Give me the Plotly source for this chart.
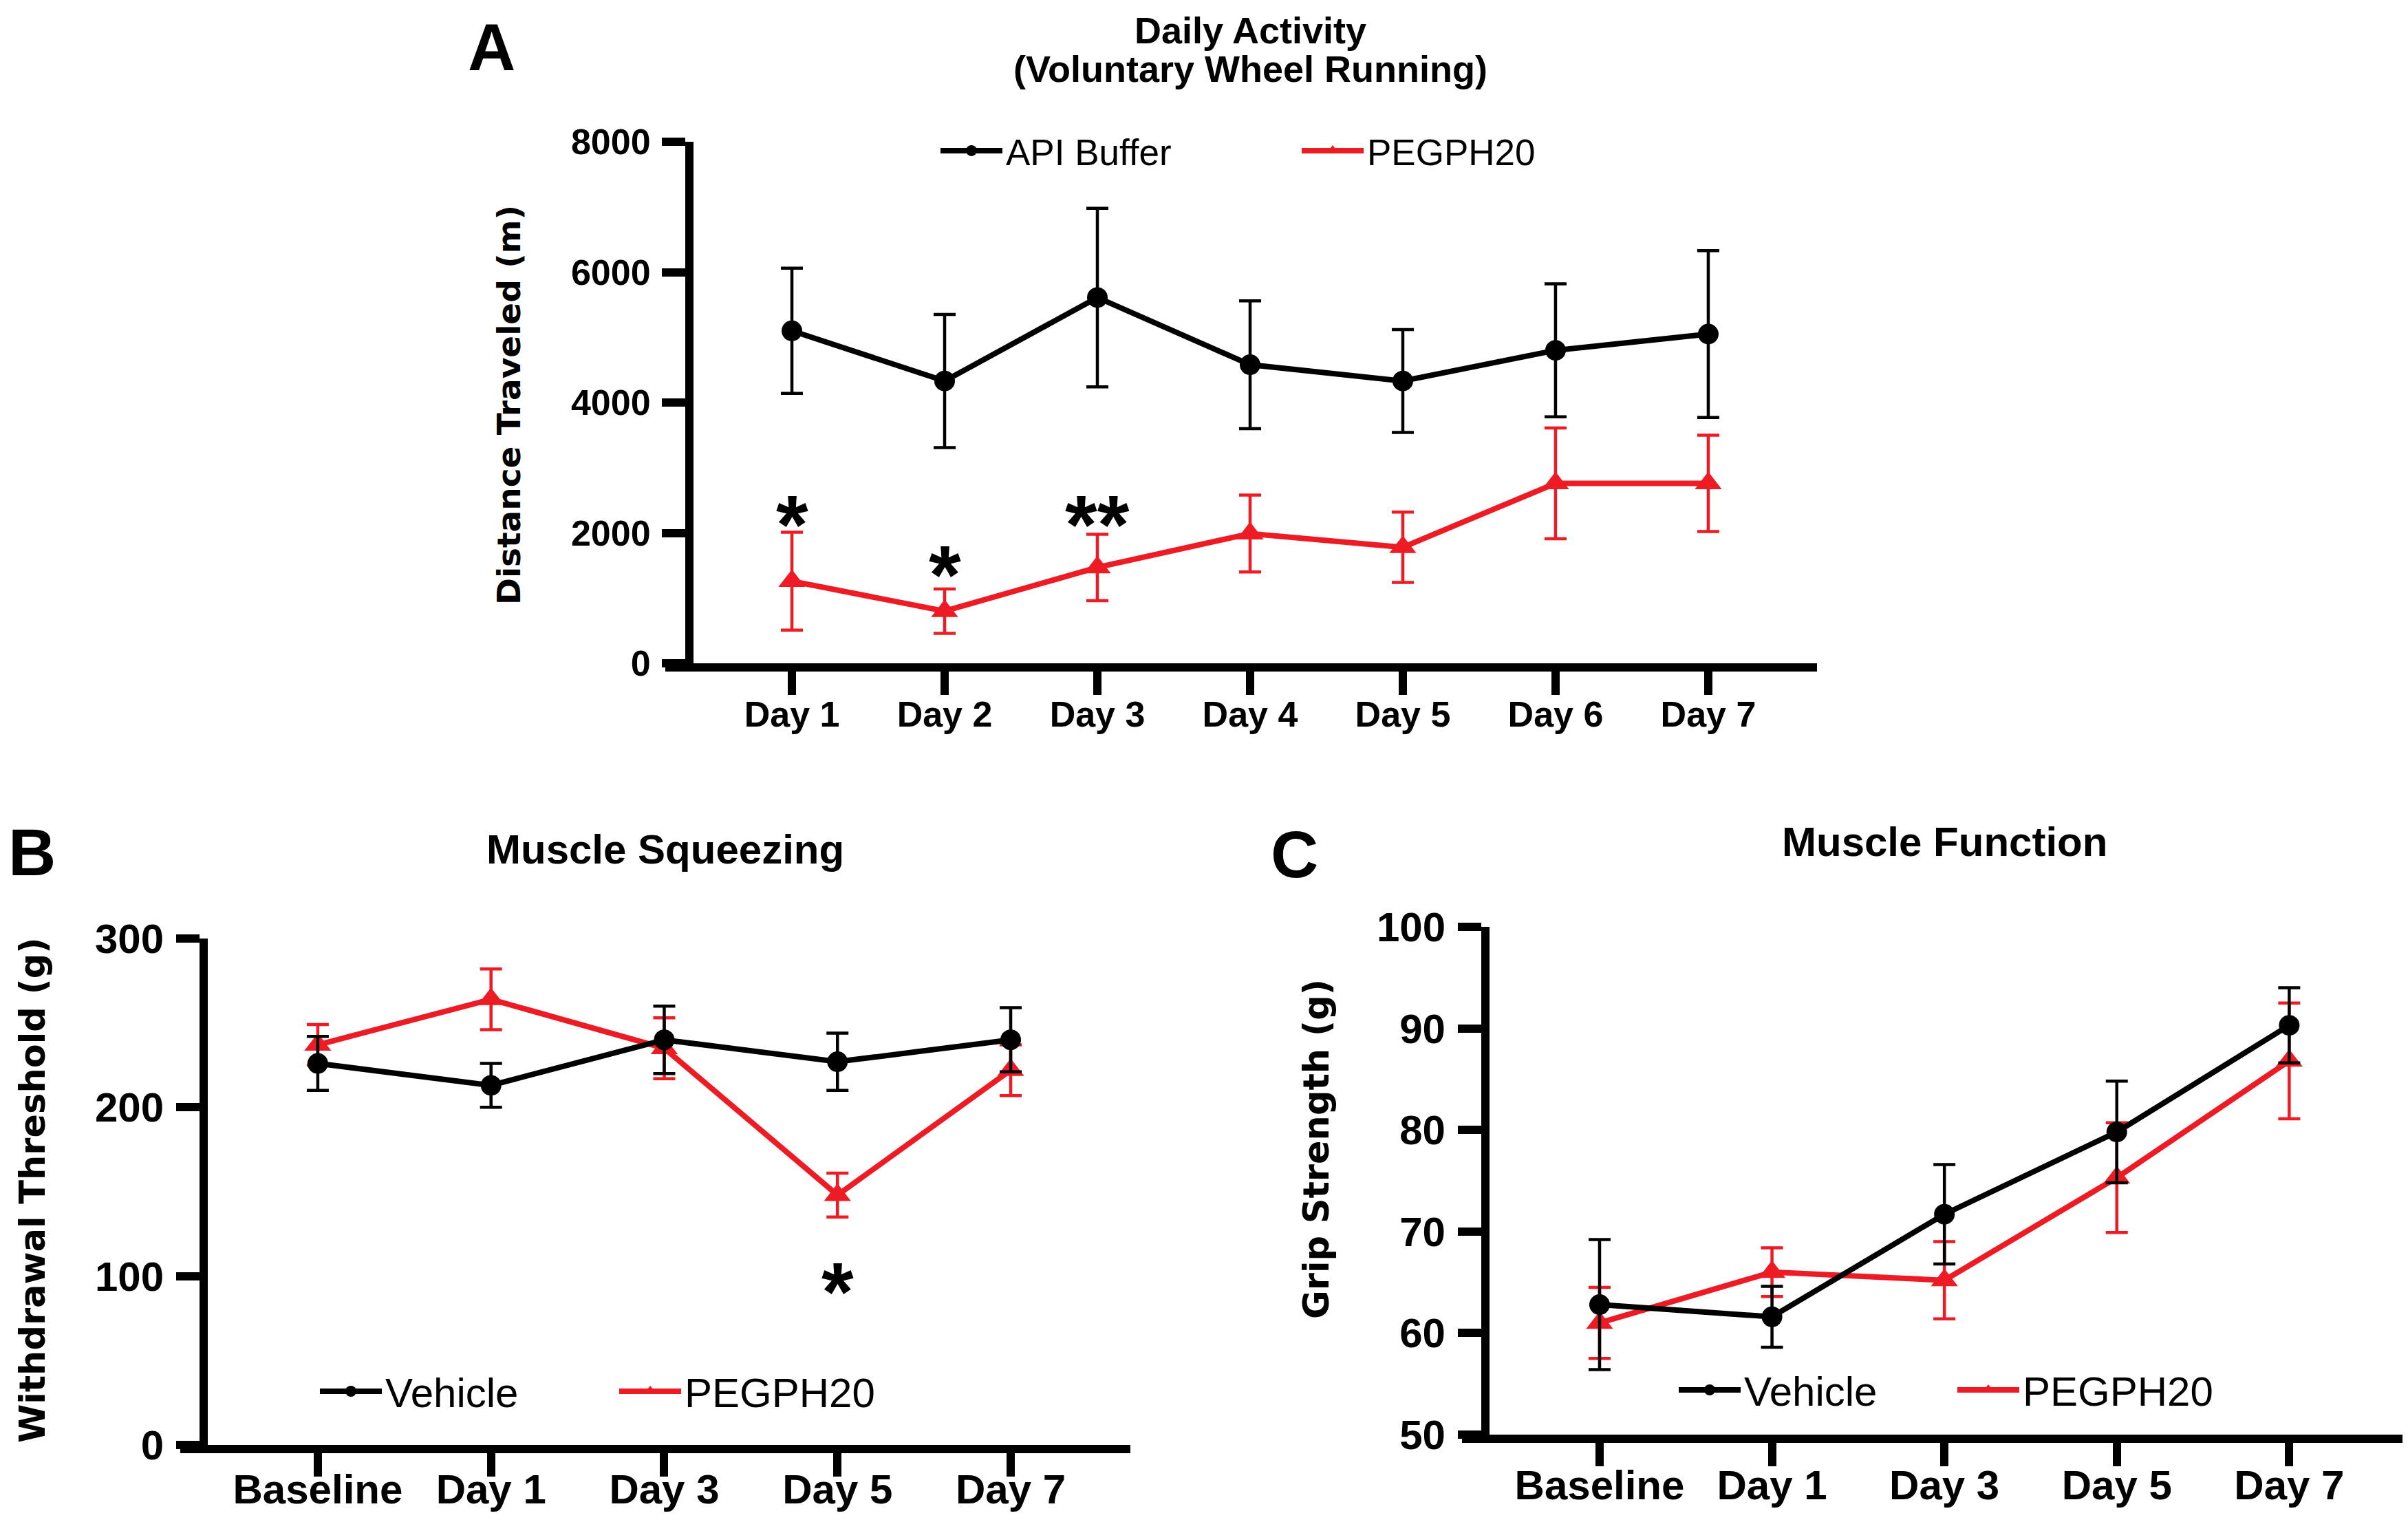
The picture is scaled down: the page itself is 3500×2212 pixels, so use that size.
import plotly.graph_objects as go

# The page adds an 8 px body margin, so the figure is sized to fit inside the window
OFF = 8
FW, FH = 3484, 2196

# ---------------- data ----------------
days_a = ["Day 1", "Day 2", "Day 3", "Day 4", "Day 5", "Day 6", "Day 7"]
api_mean = [5100, 4330, 5610, 4580, 4330, 4800, 5050]
api_err = [960, 1020, 1370, 980, 790, 1020, 1280]
peg_a_mean = [1260, 800, 1470, 1990, 1780, 2760, 2760]
peg_a_err = [750, 340, 510, 590, 540, 850, 740]
sig_a_cats = ["Day 1", "Day 2", "Day 3"]
sig_a_text = ["*", "*", "**"]
sig_a_y = [2135, 1357, 2135]
a_ticks = [0, 2000, 4000, 6000, 8000]
a_ticktext = ["0", "2000", "4000", "6000", "8000"]

days_bc = ["Baseline", "Day 1", "Day 3", "Day 5", "Day 7"]
veh_b_mean = [226, 213, 240, 227, 240]
veh_b_err = [16, 13, 20, 17, 19]
peg_b_mean = [237, 264, 235, 148, 222]
peg_b_err = [12, 18, 18, 13, 15]
sig_b_cats = ["Day 5"]
sig_b_text = ["*"]
sig_b_y = [91]
b_ticks = [0, 100, 200, 300]

veh_c_mean = [62.8, 61.6, 71.7, 79.8, 90.3]
veh_c_err = [6.4, 3.0, 4.9, 5.0, 3.7]
peg_c_mean = [61.0, 66.0, 65.2, 75.3, 86.8]
peg_c_err = [3.5, 2.4, 3.8, 5.4, 5.7]
c_ticks = [50, 60, 70, 80, 90, 100]

RED = "#ED1C24"
BLACK = "#000000"
ARIAL = "Liberation Sans, Arial, sans-serif"
WIDE = "DejaVu Sans, Verdana, sans-serif"


def px_x(p):
    return (p - OFF) / FW


def px_y(p):
    return 1 - (p - OFF) / FH


fig = go.Figure()


def add_series(x, y, err, color, symbol, msize, name, xa, ya, legend, rank):
    fig.add_trace(go.Scatter(
        x=x, y=y, xaxis=xa, yaxis=ya, name=name, legend=legend, legendrank=rank,
        mode="lines+markers",
        line=dict(color=color, width=8),
        marker=dict(color=color, symbol=symbol, size=msize),
        error_y=dict(type="data", array=err, color=color, thickness=4.5, width=16, visible=True),
    ))


# Panel A
add_series(days_a, peg_a_mean, peg_a_err, RED, "triangle-up", 34, "PEGPH20", "x", "y", "legend", 2)
add_series(days_a, api_mean, api_err, BLACK, "circle", 30, "API Buffer", "x", "y", "legend", 1)
# Panel B
add_series(days_bc, peg_b_mean, peg_b_err, RED, "triangle-up", 34, "PEGPH20", "x2", "y2", "legend2", 2)
add_series(days_bc, veh_b_mean, veh_b_err, BLACK, "circle", 30, "Vehicle", "x2", "y2", "legend2", 1)
# Panel C
add_series(days_bc, peg_c_mean, peg_c_err, RED, "triangle-up", 34, "PEGPH20", "x3", "y3", "legend3", 2)
add_series(days_bc, veh_c_mean, veh_c_err, BLACK, "circle", 30, "Vehicle", "x3", "y3", "legend3", 1)

LW = 12


def xaxis_cfg(domain_px, rng, cats, fs, anchor, standoff):
    return dict(
        domain=[px_x(domain_px[0]), px_x(domain_px[1])], anchor=anchor, automargin=False,
        type="category", categoryorder="array", categoryarray=cats,
        range=rng, showline=True, linewidth=LW, linecolor=BLACK,
        ticks="outside", ticklen=34, tickwidth=LW, tickcolor=BLACK,
        showgrid=False, zeroline=False,
        tickfont=dict(family=ARIAL, size=fs, color=BLACK, weight="bold"),
        ticklabelstandoff=standoff,
    )


def yaxis_cfg(domain_px, pos_px, rng, tickvals, ticktext, fs):
    return dict(
        domain=[px_y(domain_px[0]), px_y(domain_px[1])], anchor="free", automargin=False,
        position=px_x(pos_px), range=rng, tickvals=tickvals, ticktext=ticktext,
        showline=True, linewidth=LW, linecolor=BLACK,
        ticks="outside", ticklen=34, tickwidth=LW, tickcolor=BLACK,
        showgrid=False, zeroline=False,
        tickfont=dict(family=ARIAL, size=fs, color=BLACK, weight="bold"),
        ticklabelstandoff=6,
    )


fig.update_layout(
    width=FW, height=FH, margin=dict(l=0, r=0, t=0, b=0, autoexpand=False),
    paper_bgcolor="white", plot_bgcolor="white", showlegend=True,
    xaxis=xaxis_cfg((967, 2641), [-0.829, 6.712], days_a, 52, "y", -16),
    yaxis=yaxis_cfg((964, 206), 1002, [0, 8000], a_ticks, a_ticktext, 52),
    xaxis2=xaxis_cfg((262, 1643), [-0.794, 4.691], days_bc, 60, "y2", -33),
    yaxis2=yaxis_cfg((2100, 1364), 296, [0, 300], b_ticks, [str(v) for v in b_ticks], 60),
    xaxis3=xaxis_cfg((2125, 3492), [-0.798, 4.657], days_bc, 60, "y3", -24),
    yaxis3=yaxis_cfg((2085, 1347), 2159, [50, 100], c_ticks, [str(v) for v in c_ticks], 60),
    legend=dict(orientation="h", x=px_x(1362), y=px_y(219), xanchor="left", yanchor="middle",
                font=dict(family=ARIAL, size=53, color=BLACK), bgcolor="rgba(0,0,0,0)",
                itemwidth=90, entrywidth=420, traceorder="normal"),
    legend2=dict(orientation="h", x=px_x(460), y=px_y(2022), xanchor="left", yanchor="middle",
                 font=dict(family=ARIAL, size=60, color=BLACK), bgcolor="rgba(0,0,0,0)",
                 itemwidth=90, entrywidth=330, traceorder="normal"),
    legend3=dict(orientation="h", x=px_x(2435), y=px_y(2020), xanchor="left", yanchor="middle",
                 font=dict(family=ARIAL, size=60, color=BLACK), bgcolor="rgba(0,0,0,0)",
                 itemwidth=90, entrywidth=300, traceorder="normal"),
)

ann = []
# panel letters
for txt, cx, cy in [("A", 714, 68), ("B", 46, 1238), ("C", 1881, 1241)]:
    ann.append(dict(text=txt, x=px_x(cx), y=px_y(cy), xref="paper", yref="paper",
                    showarrow=False, xanchor="center", yanchor="middle",
                    font=dict(family=ARIAL, size=96, color=BLACK, weight="bold")))
# titles
for txt, cx, cy, fs in [("Daily Activity", 1818, 44, 54),
                        ("(Voluntary Wheel Running)", 1818, 100, 54),
                        ("Muscle Squeezing", 967, 1234, 60),
                        ("Muscle Function", 2826, 1223, 60)]:
    ann.append(dict(text=txt, x=px_x(cx), y=px_y(cy), xref="paper", yref="paper",
                    showarrow=False, xanchor="center", yanchor="middle",
                    font=dict(family=ARIAL, size=fs, color=BLACK, weight="bold")))
# axis titles
for txt, cx, cy, fs in [("Distance Traveled (m)", 739, 589, 47),
                        ("Withdrawal Threshold (g)", 47, 1730, 51),
                        ("Grip Strength (g)", 1913, 1670, 51)]:
    ann.append(dict(text=txt, x=px_x(cx), y=px_y(cy), xref="paper", yref="paper",
                    showarrow=False, xanchor="center", yanchor="middle", textangle=-90,
                    font=dict(family=WIDE, size=fs, color=BLACK, weight="bold")))
# significance stars
for c, t, yv in zip(sig_a_cats, sig_a_text, sig_a_y):
    ann.append(dict(text=t, x=c, y=yv, xref="x", yref="y", showarrow=False,
                    xanchor="center", yanchor="middle",
                    font=dict(family=ARIAL, size=120, color=BLACK, weight="bold")))
for c, t, yv in zip(sig_b_cats, sig_b_text, sig_b_y):
    ann.append(dict(text=t, x=c, y=yv, xref="x2", yref="y2", showarrow=False,
                    xanchor="center", yanchor="middle",
                    font=dict(family=ARIAL, size=120, color=BLACK, weight="bold")))
fig.update_layout(annotations=ann)

fig.write_html("out.html")
